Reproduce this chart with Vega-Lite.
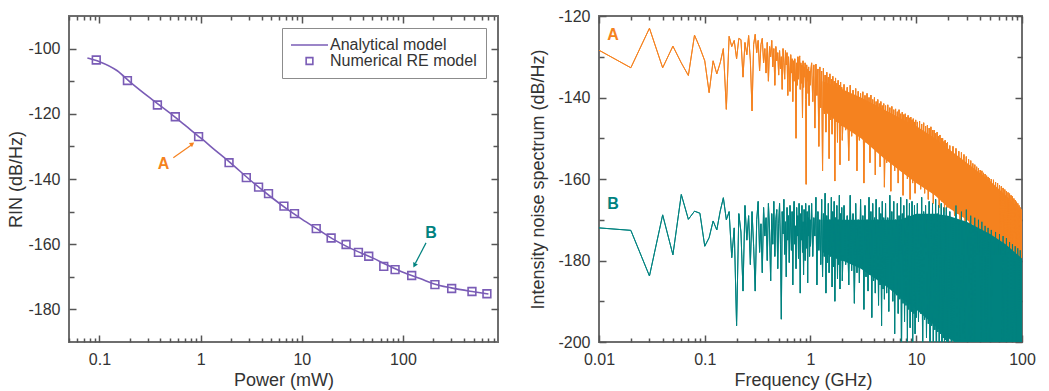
{
  "$schema": "https://vega.github.io/schema/vega-lite/v6.json",
  "padding": {"left": 6, "top": 7, "right": 0, "bottom": 0},
  "spacing": 28,
  "resolve": {"scale": {"color": "independent"}, "legend": {"color": "independent"}},
  "config": {
    "font": "Liberation Sans",
    "view": {"stroke": "#6e6e6e", "strokeWidth": 2},
    "axis": {
      "domain": false, "grid": false,
      "labelFont": "Liberation Sans", "labelFontSize": 16, "labelColor": "#333333",
      "titleFont": "Liberation Sans", "titleFontSize": 18, "titleFontWeight": "normal", "titleColor": "#333333",
      "tickColor": "#555555", "tickWidth": 1.5, "labelFlush": false
    }
  },
  "datasets": {
    "analytical": [
      {"p": 0.076, "rin": -102.9}, {"p": 0.1, "rin": -104.0}, {"p": 0.15, "rin": -106.8}, {"p": 0.2, "rin": -110.2},
      {"p": 0.3, "rin": -114.6}, {"p": 0.5, "rin": -119.8}, {"p": 0.7, "rin": -123.5}, {"p": 1, "rin": -127.4},
      {"p": 1.5, "rin": -132.0}, {"p": 2, "rin": -135.2}, {"p": 3, "rin": -140.0}, {"p": 5, "rin": -145.6},
      {"p": 7, "rin": -149.0}, {"p": 10, "rin": -152.3}, {"p": 15, "rin": -155.8}, {"p": 20, "rin": -158.3},
      {"p": 30, "rin": -161.2}, {"p": 50, "rin": -164.2}, {"p": 70, "rin": -166.4}, {"p": 100, "rin": -168.6},
      {"p": 150, "rin": -170.6}, {"p": 200, "rin": -172.1}, {"p": 300, "rin": -173.4}, {"p": 500, "rin": -174.6},
      {"p": 700, "rin": -175.3}
    ],
    "numerical": [
      {"p": 0.093, "rin": -103.5}, {"p": 0.189, "rin": -109.8}, {"p": 0.374, "rin": -117.3}, {"p": 0.562, "rin": -120.9},
      {"p": 0.955, "rin": -127.0}, {"p": 1.91, "rin": -135.0}, {"p": 2.83, "rin": -139.6}, {"p": 3.74, "rin": -142.5},
      {"p": 4.69, "rin": -144.5}, {"p": 6.66, "rin": -148.3}, {"p": 8.47, "rin": -150.6}, {"p": 13.9, "rin": -155.2},
      {"p": 19.5, "rin": -158.1}, {"p": 27.4, "rin": -160.1}, {"p": 36.3, "rin": -162.5}, {"p": 45.9, "rin": -163.7},
      {"p": 64.6, "rin": -166.8}, {"p": 83.6, "rin": -167.8}, {"p": 122, "rin": -169.6}, {"p": 207, "rin": -172.4},
      {"p": 303, "rin": -173.6}, {"p": 481, "rin": -174.5}, {"p": 676, "rin": -175.2}
    ],
    "bands": [
      {"f": 1.3, "alo": -143, "ahi": -136, "blo": -178, "bhi": -170},
      {"f": 2, "alo": -147, "ahi": -138, "blo": -180, "bhi": -170},
      {"f": 3, "alo": -150, "ahi": -140, "blo": -182, "bhi": -170},
      {"f": 5, "alo": -155, "ahi": -143, "blo": -186, "bhi": -170},
      {"f": 7, "alo": -158, "ahi": -145, "blo": -189, "bhi": -170},
      {"f": 10, "alo": -161, "ahi": -147, "blo": -192, "bhi": -168.5},
      {"f": 15, "alo": -164, "ahi": -150, "blo": -196, "bhi": -168.5},
      {"f": 20, "alo": -167, "ahi": -152.5, "blo": -199, "bhi": -169},
      {"f": 30, "alo": -170, "ahi": -156, "blo": -202, "bhi": -170.5},
      {"f": 50, "alo": -175, "ahi": -160.5, "blo": -205, "bhi": -173.5},
      {"f": 70, "alo": -178, "ahi": -164, "blo": -205, "bhi": -176},
      {"f": 100, "alo": -181, "ahi": -168, "blo": -205, "bhi": -179.5}
    ],
    "spectrum": [
      {"f":0.01,"a":-128.4,"b":-172.0},{"f":0.02,"a":-132.7,"b":-172.6},{"f":0.03,"a":-123.0,"b":-183.8},{"f":0.04,"a":-132.7,"b":-168.8},
      {"f":0.05,"a":-127.4,"b":-178.6},{"f":0.06,"a":-131.5,"b":-163.8},{"f":0.07,"a":-134.6,"b":-169.9},{"f":0.08,"a":-124.7,"b":-167.9},
      {"f":0.09,"a":-127.8,"b":-168.4},{"f":0.10,"a":-131.0,"b":-176.5},
      {"f":0.11,"a":-138.8,"b":-174.4},{"f":0.12,"a":-131.0,"b":-170.3},{"f":0.13,"a":-134.2,"b":-172.5},{"f":0.14,"a":-131.5,"b":-167.9},
      {"f":0.15,"a":-128.0,"b":-164.6},{"f":0.16,"a":-142.9,"b":-170.0},{"f":0.17,"a":-125.0,"b":-168.0},{"f":0.18,"a":-127.5,"b":-179.3},
      {"f":0.19,"a":-126.0,"b":-172.0},{"f":0.20,"a":-130.5,"b":-196.0},{"f":0.21,"a":-125.5,"b":-168.5},{"f":0.22,"a":-125.8,"b":-173.0},
      {"f":0.23,"a":-135.0,"b":-187.5},{"f":0.24,"a":-126.5,"b":-166.5},{"f":0.25,"a":-129.5,"b":-175.0},{"f":0.26,"a":-124.8,"b":-169.0},
      {"f":0.27,"a":-131.0,"b":-181.0},{"f":0.28,"a":-143.3,"b":-168.0},{"f":0.29,"a":-127.0,"b":-176.5},{"f":0.30,"a":-124.5,"b":-187.5},
      {"f":0.31,"a":-129.0,"b":-170.0},{"f":0.32,"a":-126.0,"b":-165.5},{"f":0.33,"a":-133.5,"b":-178.0},{"f":0.34,"a":-127.0,"b":-171.0},
      {"f":0.35,"a":-125.5,"b":-183.0},{"f":0.36,"a":-131.5,"b":-167.0},{"f":0.37,"a":-128.0,"b":-174.0},{"f":0.38,"a":-134.0,"b":-169.5},
      {"f":0.39,"a":-126.5,"b":-180.0},{"f":0.40,"a":-136.0,"b":-166.0},{"f":0.41,"a":-127.5,"b":-172.5},{"f":0.42,"a":-130.0,"b":-185.0},
      {"f":0.43,"a":-126.0,"b":-168.5},{"f":0.44,"a":-132.5,"b":-176.0},{"f":0.45,"a":-128.0,"b":-165.5},{"f":0.46,"a":-137.0,"b":-179.0},
      {"f":0.47,"a":-127.5,"b":-170.0},{"f":0.48,"a":-131.0,"b":-167.5},{"f":0.49,"a":-129.0,"b":-182.0},{"f":0.50,"a":-134.5,"b":-171.0},
      {"f":0.51,"a":-128.5,"b":-166.0},{"f":0.52,"a":-133.0,"b":-176.0},{"f":0.53,"a":-130.0,"b":-194.4},{"f":0.54,"a":-138.0,"b":-168.0},
      {"f":0.55,"a":-128.0,"b":-173.5},{"f":0.56,"a":-131.5,"b":-165.0},{"f":0.57,"a":-135.5,"b":-178.5},{"f":0.58,"a":-128.5,"b":-170.5},
      {"f":0.59,"a":-132.0,"b":-184.0},{"f":0.60,"a":-129.0,"b":-167.0},{"f":0.61,"a":-139.5,"b":-175.0},{"f":0.62,"a":-130.0,"b":-169.0},
      {"f":0.63,"a":-133.5,"b":-180.5},{"f":0.64,"a":-138.5,"b":-166.5},{"f":0.65,"a":-129.5,"b":-172.0},{"f":0.66,"a":-134.0,"b":-177.5},
      {"f":0.67,"a":-130.5,"b":-168.0},{"f":0.68,"a":-141.0,"b":-186.0},{"f":0.69,"a":-131.0,"b":-170.0},{"f":0.70,"a":-136.0,"b":-165.5},
      {"f":0.71,"a":-130.5,"b":-176.0},{"f":0.72,"a":-134.5,"b":-171.5},{"f":0.73,"a":-150.0,"b":-182.0},{"f":0.74,"a":-131.5,"b":-167.0},
      {"f":0.75,"a":-137.0,"b":-174.0},{"f":0.76,"a":-130.0,"b":-169.0},{"f":0.77,"a":-135.5,"b":-179.5},{"f":0.78,"a":-131.0,"b":-166.0},
      {"f":0.79,"a":-129.8,"b":-172.0},{"f":0.80,"a":-138.0,"b":-188.0},{"f":0.81,"a":-131.5,"b":-168.5},{"f":0.82,"a":-136.5,"b":-175.0},
      {"f":0.83,"a":-132.0,"b":-166.5},{"f":0.84,"a":-145.0,"b":-178.0},{"f":0.85,"a":-131.0,"b":-170.5},{"f":0.86,"a":-137.5,"b":-183.5},
      {"f":0.87,"a":-132.5,"b":-167.5},{"f":0.88,"a":-135.0,"b":-173.0},{"f":0.89,"a":-131.5,"b":-180.0},{"f":0.90,"a":-140.5,"b":-166.0},
      {"f":0.91,"a":-161.3,"b":-171.5},{"f":0.92,"a":-132.0,"b":-177.0},{"f":0.93,"a":-136.0,"b":-168.0},{"f":0.94,"a":-133.0,"b":-185.5},
      {"f":0.95,"a":-139.0,"b":-169.5},{"f":0.96,"a":-132.5,"b":-174.0},{"f":0.97,"a":-142.0,"b":-166.5},{"f":0.98,"a":-133.5,"b":-179.0},
      {"f":0.99,"a":-137.0,"b":-170.0},{"f":1.00,"a":-134.0,"b":-176.5},
      {"f":1.025,"a":-131.5,"b":-166.0},{"f":1.05,"a":-141.0,"b":-179.0},{"f":1.075,"a":-132.0,"b":-169.5},{"f":1.1,"a":-147.5,"b":-174.0},
      {"f":1.125,"a":-131.8,"b":-164.5},{"f":1.15,"a":-139.5,"b":-186.0},{"f":1.175,"a":-133.0,"b":-168.0},{"f":1.2,"a":-152.0,"b":-177.5},
      {"f":1.225,"a":-132.5,"b":-170.0},{"f":1.25,"a":-142.5,"b":-181.0},{"f":1.275,"a":-133.5,"b":-165.0},{"f":1.3,"a":-158.0,"b":-184.0},
      {"f":1.325,"a":-132.8,"b":-168.5},{"f":1.35,"a":-144.0,"b":-179.0},{"f":1.375,"a":-134.5,"b":-163.5},{"f":1.4,"a":-148.5,"b":-188.0},
      {"f":1.425,"a":-133.8,"b":-169.0},{"f":1.45,"a":-141.5,"b":-180.5},{"f":1.475,"a":-135.0,"b":-166.0},{"f":1.5,"a":-155.0,"b":-183.0},
      {"f":1.525,"a":-134.2,"b":-170.0},{"f":1.55,"a":-145.5,"b":-179.0},{"f":1.575,"a":-135.5,"b":-164.5},{"f":1.6,"a":-149.0,"b":-186.5},
      {"f":1.625,"a":-134.8,"b":-168.0},{"f":1.65,"a":-143.5,"b":-181.5},{"f":1.675,"a":-136.0,"b":-165.5},{"f":1.7,"a":-160.5,"b":-190.0},
      {"f":1.725,"a":-135.2,"b":-169.5},{"f":1.75,"a":-146.0,"b":-179.5},{"f":1.775,"a":-136.5,"b":-166.5},{"f":1.8,"a":-151.0,"b":-184.5},
      {"f":1.825,"a":-135.8,"b":-170.0},{"f":1.85,"a":-144.5,"b":-181.0},{"f":1.875,"a":-137.0,"b":-164.0},{"f":1.9,"a":-156.5,"b":-187.0},
      {"f":1.925,"a":-136.2,"b":-168.5},{"f":1.95,"a":-147.0,"b":-180.0},{"f":1.975,"a":-137.5,"b":-167.0},{"f":2.0,"a":-150.5,"b":-185.0},
      {"f":2.075,"a":-136.8,"b":-166.5},{"f":2.15,"a":-148.0,"b":-181.0},{"f":2.225,"a":-137.5,"b":-169.0},{"f":2.3,"a":-155.5,"b":-186.0},
      {"f":2.375,"a":-137.0,"b":-164.0},{"f":2.45,"a":-149.5,"b":-182.5},{"f":2.525,"a":-138.2,"b":-168.5},{"f":2.6,"a":-146.5,"b":-190.5},
      {"f":2.675,"a":-137.8,"b":-166.0},{"f":2.75,"a":-158.0,"b":-183.0},{"f":2.825,"a":-138.5,"b":-170.0},{"f":2.9,"a":-150.5,"b":-185.5},
      {"f":2.975,"a":-139.0,"b":-165.0},{"f":3.05,"a":-148.0,"b":-182.0},{"f":3.125,"a":-138.6,"b":-169.0},{"f":3.2,"a":-161.0,"b":-192.0},
      {"f":3.275,"a":-139.5,"b":-166.5},{"f":3.35,"a":-151.0,"b":-184.0},{"f":3.425,"a":-139.0,"b":-170.0},{"f":3.5,"a":-149.5,"b":-187.5},
      {"f":3.575,"a":-140.0,"b":-164.5},{"f":3.65,"a":-156.0,"b":-183.5},{"f":3.725,"a":-139.4,"b":-168.0},{"f":3.8,"a":-151.5,"b":-194.0},
      {"f":3.875,"a":-140.5,"b":-166.0},{"f":3.95,"a":-150.0,"b":-185.0},{"f":4.025,"a":-140.0,"b":-169.5},{"f":4.1,"a":-159.0,"b":-188.0},
      {"f":4.175,"a":-141.0,"b":-165.0},{"f":4.25,"a":-152.5,"b":-184.5},{"f":4.325,"a":-140.5,"b":-170.0},{"f":4.4,"a":-151.0,"b":-191.0},
      {"f":4.475,"a":-141.5,"b":-167.0},{"f":4.55,"a":-157.0,"b":-186.0},{"f":4.625,"a":-141.0,"b":-168.5},{"f":4.7,"a":-153.0,"b":-196.0},
      {"f":4.775,"a":-142.0,"b":-165.5},{"f":4.85,"a":-152.0,"b":-187.0},{"f":4.925,"a":-141.5,"b":-169.5},{"f":5.0,"a":-162.0,"b":-189.5},
      {"f":5.125,"a":-142.0,"b":-166.0},{"f":5.25,"a":-156.0,"b":-188.0},{"f":5.375,"a":-141.8,"b":-169.5},{"f":5.5,"a":-154.0,"b":-192.5},
      {"f":5.625,"a":-142.5,"b":-164.0},{"f":5.75,"a":-163.0,"b":-187.0},{"f":5.875,"a":-142.2,"b":-168.0},{"f":6.0,"a":-155.5,"b":-190.0},
      {"f":6.125,"a":-143.0,"b":-165.5},{"f":6.25,"a":-158.0,"b":-198.0},{"f":6.375,"a":-142.8,"b":-170.0},{"f":6.5,"a":-155.0,"b":-188.5},
      {"f":6.625,"a":-143.5,"b":-166.0},{"f":6.75,"a":-161.0,"b":-193.0},{"f":6.875,"a":-143.0,"b":-169.0},{"f":7.0,"a":-156.5,"b":-189.5},
      {"f":7.125,"a":-144.0,"b":-164.5},{"f":7.25,"a":-157.0,"b":-205.0},{"f":7.375,"a":-143.6,"b":-168.5},{"f":7.5,"a":-164.0,"b":-190.5},
      {"f":7.625,"a":-144.2,"b":-166.5},{"f":7.75,"a":-156.5,"b":-195.0},{"f":7.875,"a":-144.0,"b":-170.0},{"f":8.0,"a":-158.5,"b":-191.0},
      {"f":8.125,"a":-144.8,"b":-165.0},{"f":8.25,"a":-160.0,"b":-201.0},{"f":8.375,"a":-144.4,"b":-169.0},{"f":8.5,"a":-157.5,"b":-192.0},
      {"f":8.625,"a":-145.0,"b":-166.0},{"f":8.75,"a":-165.0,"b":-196.5},{"f":8.875,"a":-144.8,"b":-170.5},{"f":9.0,"a":-158.0,"b":-192.5},
      {"f":9.125,"a":-145.5,"b":-165.5},{"f":9.25,"a":-161.0,"b":-204.0},{"f":9.375,"a":-145.2,"b":-169.0},{"f":9.5,"a":-159.0,"b":-193.0},
      {"f":9.625,"a":-146.0,"b":-166.5},{"f":9.75,"a":-163.5,"b":-198.0},{"f":9.875,"a":-145.5,"b":-170.0},{"f":10.0,"a":-160.0,"b":-194.0},
      {"f":10.25,"a":-146.0,"b":-166.0},{"f":10.5,"a":-160.0,"b":-195.0},{"f":10.75,"a":-145.8,"b":-169.0},{"f":11.0,"a":-162.5,"b":-193.0},
      {"f":11.25,"a":-146.5,"b":-164.5},{"f":11.5,"a":-159.5,"b":-203.0},{"f":11.75,"a":-146.2,"b":-168.0},{"f":12.0,"a":-163.5,"b":-194.5},
      {"f":12.25,"a":-147.0,"b":-166.5},{"f":12.5,"a":-161.0,"b":-199.0},{"f":12.75,"a":-146.8,"b":-170.0},{"f":13.0,"a":-165.0,"b":-195.5},
      {"f":13.25,"a":-147.5,"b":-165.5},{"f":13.5,"a":-161.5,"b":-208.0},{"f":13.75,"a":-147.2,"b":-169.0},{"f":14.0,"a":-163.0,"b":-196.0},
      {"f":14.25,"a":-148.0,"b":-166.0},{"f":14.5,"a":-166.0,"b":-201.0},{"f":14.75,"a":-148.0,"b":-170.0},{"f":15.0,"a":-162.5,"b":-197.0},
      {"f":15.25,"a":-148.8,"b":-165.0},{"f":15.5,"a":-164.0,"b":-210.0},{"f":15.75,"a":-148.5,"b":-168.5},{"f":16.0,"a":-163.0,"b":-197.5},
      {"f":16.25,"a":-149.5,"b":-166.5},{"f":16.5,"a":-167.0,"b":-203.0},{"f":16.75,"a":-149.2,"b":-170.5},{"f":17.0,"a":-164.0,"b":-198.0},
      {"f":17.25,"a":-150.0,"b":-166.0},{"f":17.5,"a":-165.5,"b":-206.0},{"f":17.75,"a":-150.0,"b":-169.5},{"f":18.0,"a":-164.0,"b":-199.0},
      {"f":18.25,"a":-150.8,"b":-167.0},{"f":18.5,"a":-168.0,"b":-204.0},{"f":18.75,"a":-150.5,"b":-171.0},{"f":19.0,"a":-165.0,"b":-199.5},
      {"f":19.25,"a":-151.2,"b":-167.0},{"f":19.5,"a":-167.0,"b":-212.0},{"f":19.75,"a":-151.0,"b":-170.0},{"f":20.0,"a":-166.0,"b":-200.0},
      {"f":20.75,"a":-151.8,"b":-168.0},{"f":21.5,"a":-167.0,"b":-203.0},{"f":22.25,"a":-152.0,"b":-171.0},{"f":23.0,"a":-169.0,"b":-200.0},
      {"f":23.75,"a":-152.5,"b":-166.5},{"f":24.5,"a":-168.5,"b":-206.0},{"f":25.25,"a":-153.2,"b":-170.5},{"f":26.0,"a":-170.0,"b":-201.0},
      {"f":26.75,"a":-153.5,"b":-168.0},{"f":27.5,"a":-168.0,"b":-209.0},{"f":28.25,"a":-154.0,"b":-171.5},{"f":29.0,"a":-171.0,"b":-202.0},
      {"f":29.75,"a":-154.5,"b":-167.5},{"f":30.5,"a":-170.0,"b":-207.0},{"f":31.25,"a":-155.2,"b":-171.0},{"f":32.0,"a":-172.0,"b":-203.0},
      {"f":32.75,"a":-155.5,"b":-169.0},{"f":33.5,"a":-170.5,"b":-210.0},{"f":34.25,"a":-156.2,"b":-172.5},{"f":35.0,"a":-173.0,"b":-204.0},
      {"f":35.75,"a":-156.5,"b":-169.5},{"f":36.5,"a":-171.5,"b":-208.0},{"f":37.25,"a":-157.0,"b":-173.0},{"f":38.0,"a":-174.0,"b":-205.0},
      {"f":38.75,"a":-157.4,"b":-170.0},{"f":39.5,"a":-172.5,"b":-211.0},{"f":40.25,"a":-157.8,"b":-173.5},{"f":41.0,"a":-175.0,"b":-205.0},
      {"f":41.75,"a":-158.0,"b":-170.5},{"f":42.5,"a":-173.5,"b":-209.0},{"f":43.25,"a":-158.5,"b":-174.0},{"f":44.0,"a":-176.0,"b":-206.0},
      {"f":44.75,"a":-158.8,"b":-171.5},{"f":45.5,"a":-174.0,"b":-212.0},{"f":46.25,"a":-159.2,"b":-175.0},{"f":47.0,"a":-177.0,"b":-206.0},
      {"f":47.75,"a":-159.5,"b":-172.0},{"f":48.5,"a":-175.0,"b":-210.0},{"f":49.25,"a":-159.8,"b":-175.5},{"f":50.0,"a":-178.0,"b":-207.0},
      {"f":51.25,"a":-160.0,"b":-172.5},{"f":52.5,"a":-177.0,"b":-208.0},{"f":53.75,"a":-160.2,"b":-175.5},{"f":55.0,"a":-176.0,"b":-206.0},
      {"f":56.25,"a":-160.8,"b":-173.0},{"f":57.5,"a":-178.0,"b":-210.0},{"f":58.75,"a":-161.0,"b":-176.0},{"f":60.0,"a":-177.5,"b":-207.0},
      {"f":61.25,"a":-161.5,"b":-173.5},{"f":62.5,"a":-179.0,"b":-211.0},{"f":63.75,"a":-161.8,"b":-176.5},{"f":65.0,"a":-178.0,"b":-208.0},
      {"f":66.25,"a":-162.2,"b":-174.0},{"f":67.5,"a":-180.0,"b":-212.0},{"f":68.75,"a":-162.6,"b":-177.0},{"f":70.0,"a":-179.0,"b":-208.0},
      {"f":71.25,"a":-163.0,"b":-174.5},{"f":72.5,"a":-181.0,"b":-211.0},{"f":73.75,"a":-163.3,"b":-177.5},{"f":75.0,"a":-180.0,"b":-209.0},
      {"f":76.25,"a":-163.6,"b":-175.5},{"f":77.5,"a":-181.5,"b":-213.0},{"f":78.75,"a":-164.0,"b":-178.0},{"f":80.0,"a":-180.5,"b":-209.0},
      {"f":81.25,"a":-164.3,"b":-176.0},{"f":82.5,"a":-182.0,"b":-212.0},{"f":83.75,"a":-164.8,"b":-178.5},{"f":85.0,"a":-181.0,"b":-210.0},
      {"f":86.25,"a":-165.2,"b":-176.5},{"f":87.5,"a":-183.0,"b":-213.0},{"f":88.75,"a":-165.6,"b":-179.0},{"f":90.0,"a":-182.0,"b":-210.0},
      {"f":91.25,"a":-166.0,"b":-177.0},{"f":92.5,"a":-183.5,"b":-214.0},{"f":93.75,"a":-166.5,"b":-179.5},{"f":95.0,"a":-182.5,"b":-211.0},
      {"f":96.25,"a":-167.0,"b":-177.5},{"f":97.5,"a":-184.0,"b":-213.0},{"f":98.75,"a":-167.5,"b":-180.0},{"f":100.0,"a":-183.0,"b":-211.0}
    ]
  },
  "hconcat": [
    {
      "width": 429,
      "height": 326,
      "layer": [
        {
          "data": {"name": "analytical"},
          "mark": {"type": "line", "interpolate": "monotone", "strokeWidth": 1.6},
          "encoding": {
            "x": {"field": "p", "type": "quantitative",
              "scale": {"type": "log", "domain": [0.05, 870], "nice": false},
              "axis": {"orient": "bottom", "values": [0.1, 1, 10, 100], "labelExpr": "'' + datum.value", "tickSize": -7, "labelPadding": 16, "title": "Power (mW)", "titleY": 43, "titleBaseline": "alphabetic"}},
            "y": {"field": "rin", "type": "quantitative",
              "scale": {"domain": [-190, -90], "nice": false, "zero": false},
              "axis": {"orient": "left", "values": [-180, -160, -140, -120, -100], "labelExpr": "'' + datum.value", "tickSize": -7, "labelPadding": 16, "title": "RIN (dB/Hz)", "titleX": -53, "titleY": 163, "titleBaseline": "middle"}},
            "color": {"datum": "Analytical model",
              "scale": {"domain": ["Analytical model", "Numerical RE model"], "range": ["#7a5cb6", "#7a5cb6"]},
              "legend": {
                "orient": "top-right", "offset": 12, "title": null,
                "strokeColor": "#8c8c8c", "fillColor": "white", "padding": 9,
                "labelFont": "Liberation Sans", "labelFontSize": 16, "labelColor": "#333333",
                "rowPadding": 0, "symbolSize": 1400, "symbolStrokeWidth": 1.6,
                "encode": {
                  "symbols": {"update": {
                    "x": {"value": 18.5},
                    "shape": {"signal": "datum.value === 'Analytical model' ? 'stroke' : 'square'"},
                    "size": {"signal": "datum.value === 'Analytical model' ? 1369 : 45"},
                    "fill": {"value": "transparent"},
                    "stroke": {"value": "#7a5cb6"},
                    "strokeWidth": {"value": 1.6},
                    "opacity": {"value": 1}
                  }},
                  "labels": {"update": {"x": {"value": 39}}}
                }
              }}
          }
        },
        {
          "data": {"name": "numerical"},
          "mark": {"type": "point", "shape": "square", "filled": false, "size": 60, "strokeWidth": 1.6, "opacity": 1},
          "encoding": {
            "x": {"field": "p", "type": "quantitative",
              "axis": {"orient": "top", "values": [0.1, 1, 10, 100], "labels": false, "tickSize": -7, "title": null}},
            "y": {"field": "rin", "type": "quantitative",
              "axis": {"orient": "right", "values": [-180, -160, -140, -120, -100], "labels": false, "tickSize": -7, "title": null}},
            "color": {"datum": "Numerical RE model"}
          }
        },
        {
          "data": {"values": [{"p": 0.43, "rin": -135.4}]},
          "mark": {"type": "text", "text": "A", "color": "#f58220", "fontWeight": "bold", "fontSize": 16},
          "encoding": {
            "x": {"field": "p", "type": "quantitative",
              "axis": {"orient": "bottom", "values": [0.05, 0.06, 0.07, 0.08, 0.09, 0.2, 0.3, 0.4, 0.5, 0.6, 0.7, 0.8, 0.9, 2, 3, 4, 5, 6, 7, 8, 9, 20, 30, 40, 50, 60, 70, 80, 90, 200, 300, 400, 500, 600, 700, 800], "labels": false, "tickSize": -4, "title": null}},
            "y": {"field": "rin", "type": "quantitative",
              "axis": {"orient": "left", "values": [-170, -150, -130, -110], "labels": false, "tickSize": -5, "title": null}}
          }
        },
        {
          "data": {"values": [{"p": 189, "rin": -156.5}]},
          "mark": {"type": "text", "text": "B", "color": "#00827f", "fontWeight": "bold", "fontSize": 16},
          "encoding": {
            "x": {"field": "p", "type": "quantitative",
              "axis": {"orient": "top", "values": [0.05, 0.06, 0.07, 0.08, 0.09, 0.2, 0.3, 0.4, 0.5, 0.6, 0.7, 0.8, 0.9, 2, 3, 4, 5, 6, 7, 8, 9, 20, 30, 40, 50, 60, 70, 80, 90, 200, 300, 400, 500, 600, 700, 800], "labels": false, "tickSize": -4, "title": null}},
            "y": {"field": "rin", "type": "quantitative",
              "axis": {"orient": "right", "values": [-170, -150, -130, -110], "labels": false, "tickSize": -5, "title": null}}
          }
        },
        {
          "data": {"values": [{"p": 0.537, "rin": -133.5, "p2": 0.81, "rin2": -129.6}]},
          "mark": {"type": "rule", "color": "#f58220", "strokeWidth": 1.2},
          "encoding": {
            "x": {"field": "p", "type": "quantitative", "axis": null},
            "y": {"field": "rin", "type": "quantitative", "axis": null},
            "x2": {"field": "p2"},
            "y2": {"field": "rin2"}
          }
        },
        {
          "data": {"values": [{"p": 169, "rin": -159.6, "p2": 133, "rin2": -165.8}]},
          "mark": {"type": "rule", "color": "#00827f", "strokeWidth": 1.2},
          "encoding": {
            "x": {"field": "p", "type": "quantitative", "axis": null},
            "y": {"field": "rin", "type": "quantitative", "axis": null},
            "x2": {"field": "p2"},
            "y2": {"field": "rin2"}
          }
        },
        {
          "data": {"values": [{"p": 0.828, "rin": -129.2}]},
          "mark": {"type": "point", "shape": "triangle-up", "filled": true, "size": 28, "angle": 54, "color": "#f58220", "opacity": 1},
          "encoding": {
            "x": {"field": "p", "type": "quantitative", "axis": null},
            "y": {"field": "rin", "type": "quantitative", "axis": null}
          }
        },
        {
          "data": {"values": [{"p": 130, "rin": -166.5}]},
          "mark": {"type": "point", "shape": "triangle-up", "filled": true, "size": 28, "angle": 208, "color": "#00827f", "opacity": 1},
          "encoding": {
            "x": {"field": "p", "type": "quantitative", "axis": null},
            "y": {"field": "rin", "type": "quantitative", "axis": null}
          }
        }
      ],
      "resolve": {"axis": {"x": "independent", "y": "independent"}}
    },
    {
      "width": 423,
      "height": 326,
      "layer": [
        {
          "data": {"name": "spectrum"},
          "mark": {"type": "line", "color": "#f5821f", "strokeWidth": 1, "clip": true, "strokeJoin": "bevel"},
          "encoding": {
            "x": {"field": "f", "type": "quantitative",
              "scale": {"type": "log", "domain": [0.01, 100], "nice": false},
              "axis": {"orient": "bottom", "values": [0.01, 0.1, 1, 10, 100], "labelExpr": "'' + datum.value", "tickSize": -7, "labelPadding": 16, "title": "Frequency (GHz)", "titleX": 204, "titleY": 43, "titleBaseline": "alphabetic"}},
            "y": {"field": "a", "type": "quantitative",
              "scale": {"domain": [-200, -120], "nice": false, "zero": false},
              "axis": {"orient": "left", "values": [-200, -180, -160, -140, -120], "labelExpr": "'' + datum.value", "tickSize": -7, "labelPadding": 16, "title": "Intensity noise spectrum (dB/Hz)", "titleX": -61, "titleY": 163, "titleBaseline": "middle"}}
          }
        },
        {
          "data": {"name": "spectrum"},
          "mark": {"type": "line", "color": "#00827f", "strokeWidth": 1, "clip": true, "strokeJoin": "bevel"},
          "encoding": {
            "x": {"field": "f", "type": "quantitative",
              "axis": {"orient": "top", "values": [0.01, 0.1, 1, 10, 100], "labels": false, "tickSize": -7, "title": null}},
            "y": {"field": "b", "type": "quantitative",
              "axis": {"orient": "right", "values": [-200, -180, -160, -140, -120], "labels": false, "tickSize": -7, "title": null}}
          }
        },
        {
          "data": {"values": [{"f": 0.01356, "v": -124.7}]},
          "mark": {"type": "text", "text": "A", "color": "#f58220", "fontWeight": "bold", "fontSize": 16},
          "encoding": {
            "x": {"field": "f", "type": "quantitative",
              "axis": {"orient": "bottom", "values": [0.02, 0.03, 0.04, 0.05, 0.06, 0.07, 0.08, 0.09, 0.2, 0.3, 0.4, 0.5, 0.6, 0.7, 0.8, 0.9, 2, 3, 4, 5, 6, 7, 8, 9, 20, 30, 40, 50, 60, 70, 80, 90], "labels": false, "tickSize": -4, "title": null}},
            "y": {"field": "v", "type": "quantitative",
              "axis": {"orient": "left", "values": [-190, -170, -150, -130], "labels": false, "tickSize": -5, "title": null}}
          }
        },
        {
          "data": {"values": [{"f": 0.01356, "v": -166.2}]},
          "mark": {"type": "text", "text": "B", "color": "#00827f", "fontWeight": "bold", "fontSize": 16},
          "encoding": {
            "x": {"field": "f", "type": "quantitative",
              "axis": {"orient": "top", "values": [0.02, 0.03, 0.04, 0.05, 0.06, 0.07, 0.08, 0.09, 0.2, 0.3, 0.4, 0.5, 0.6, 0.7, 0.8, 0.9, 2, 3, 4, 5, 6, 7, 8, 9, 20, 30, 40, 50, 60, 70, 80, 90], "labels": false, "tickSize": -4, "title": null}},
            "y": {"field": "v", "type": "quantitative",
              "axis": {"orient": "right", "values": [-190, -170, -150, -130], "labels": false, "tickSize": -5, "title": null}}
          }
        },
        {
          "data": {"name": "bands"},
          "mark": {"type": "area", "color": "#f5821f", "opacity": 1, "clip": true},
          "encoding": {
            "x": {"field": "f", "type": "quantitative", "axis": null},
            "y": {"field": "ahi", "type": "quantitative", "axis": null},
            "y2": {"field": "alo"}
          }
        },
        {
          "data": {"name": "spectrum"},
          "mark": {"type": "line", "color": "#f5821f", "strokeWidth": 1, "clip": true, "strokeJoin": "bevel"},
          "encoding": {
            "x": {"field": "f", "type": "quantitative", "axis": null},
            "y": {"field": "a", "type": "quantitative", "axis": null}
          }
        },
        {
          "data": {"name": "bands"},
          "mark": {"type": "area", "color": "#00827f", "opacity": 1, "clip": true},
          "encoding": {
            "x": {"field": "f", "type": "quantitative", "axis": null},
            "y": {"field": "bhi", "type": "quantitative", "axis": null},
            "y2": {"field": "blo"}
          }
        },
        {
          "data": {"name": "spectrum"},
          "mark": {"type": "line", "color": "#00827f", "strokeWidth": 1, "clip": true, "strokeJoin": "bevel"},
          "encoding": {
            "x": {"field": "f", "type": "quantitative", "axis": null},
            "y": {"field": "b", "type": "quantitative", "axis": null}
          }
        }
      ],
      "resolve": {"axis": {"x": "independent", "y": "independent"}}
    }
  ]
}
